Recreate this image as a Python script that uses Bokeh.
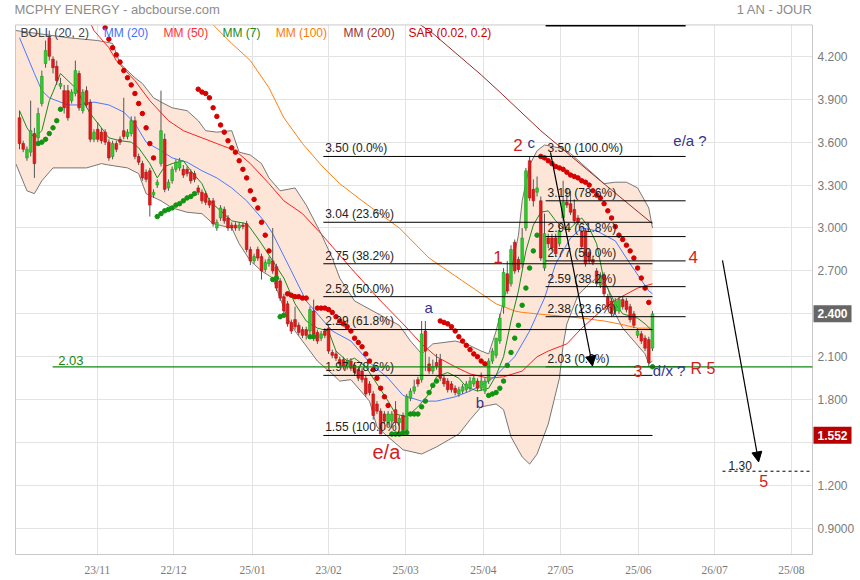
from bokeh.plotting import figure
from bokeh.models import Range1d, FixedTicker, Label, Arrow, NormalHead, ColumnDataSource
from bokeh.embed import file_html
from bokeh.resources import INLINE
from bokeh.core.properties import value

# ---------------- data ----------------
title_text = "MCPHY ENERGY - abcbourse.com"
period_text = "1 AN - JOUR"

x_tick_pos = [20.9, 41.4, 62.6, 83.0, 103.7, 124.6, 145.3, 166.2, 186.7, 207.3]
x_tick_labels = ["23/11", "22/12", "25/01", "23/02", "25/03", "25/04", "27/05", "25/06", "26/07", "25/08"]
y_ticks = [0.9, 1.2, 1.5, 1.8, 2.1, 2.4, 2.7, 3.0, 3.3, 3.6, 3.9, 4.2]
y_tick_labels = ["0.9000", "1.200", "", "1.800", "2.100", "", "2.700", "3.000", "3.300", "3.600", "3.900", "4.200"]

opens = [3.77, 3.59, 3.49, 3.53, 3.66, 3.63, 3.87, 4.15, 4.33, 4.18, 4.13, 3.99, 3.96, 3.96, 3.89, 3.94, 4.08, 3.82, 3.96, 3.88,
         3.62, 3.69, 3.67, 3.67, 3.60, 3.50, 3.59, 3.62, 3.68, 3.64, 3.66, 3.75, 3.50, 3.45, 3.39, 3.40, 3.23, 3.30, 3.45, 3.62,
         3.28, 3.33, 3.41, 3.42, 3.41, 3.41, 3.39, 3.38, 3.28, 3.25, 3.24, 3.19, 3.19, 3.00, 3.07, 3.13, 3.07, 3.02, 3.02, 3.00,
         3.02, 3.03, 2.85, 2.77, 2.85, 2.80, 2.71, 2.75, 2.77, 2.73, 2.63, 2.52, 2.47, 2.34, 2.36, 2.32, 2.29, 2.29, 2.28, 2.42,
         2.27, 2.23, 2.28, 2.30, 2.13, 2.12, 2.08, 2.08, 2.03, 2.07, 2.04, 2.01, 2.00, 1.95, 1.91, 1.84, 1.77, 1.72, 1.70, 1.64,
         1.65, 1.73, 1.64, 1.69, 1.59, 1.81, 1.86, 1.94, 1.94, 2.28, 2.05, 2.00, 2.06, 2.08, 1.95, 1.93, 1.91, 1.88, 1.84, 1.86,
         1.87, 1.88, 1.91, 1.93, 1.88, 1.86, 1.93, 2.07, 2.11, 2.21, 2.45, 2.68, 2.61, 2.90, 2.78, 2.75, 3.00, 3.47, 3.27, 3.25,
         3.19, 2.72, 2.93, 2.93, 2.93, 2.89, 3.07, 3.18, 3.17, 3.13, 3.07, 2.97, 2.98, 2.83, 2.78, 2.70, 2.60, 2.67, 2.52, 2.49,
         2.42, 2.42, 2.50, 2.49, 2.45, 2.40, 2.25, 2.26, 2.23, 2.22, 2.16]
highs = [3.82, 3.61, 3.57, 3.89, 3.70, 3.84, 4.10, 4.31, 4.38, 4.20, 4.17, 4.05, 4.00, 4.00, 3.97, 4.17, 4.10, 3.97, 3.99, 3.90,
         3.69, 3.74, 3.70, 3.69, 3.62, 3.61, 3.61, 3.64, 3.91, 3.69, 3.78, 3.78, 3.52, 3.47, 3.41, 3.42, 3.27, 3.34, 3.96, 3.66,
         3.34, 3.43, 3.48, 3.49, 3.44, 3.43, 3.41, 3.40, 3.30, 3.27, 3.26, 3.21, 3.21, 3.06, 3.16, 3.15, 3.09, 3.04, 3.04, 3.04,
         3.04, 3.05, 2.87, 2.82, 2.87, 2.82, 2.78, 2.80, 3.00, 2.75, 2.65, 2.54, 2.49, 2.36, 2.45, 2.34, 2.31, 2.31, 2.45, 2.50,
         2.29, 2.28, 2.30, 2.33, 2.15, 2.14, 2.10, 2.10, 2.09, 2.09, 2.06, 2.03, 2.02, 1.97, 1.93, 1.86, 1.79, 1.74, 1.72, 1.72,
         1.72, 1.79, 1.69, 1.71, 1.84, 1.88, 1.94, 1.96, 2.35, 2.35, 2.10, 2.08, 2.12, 2.12, 1.97, 1.95, 1.93, 1.90, 1.89, 1.91,
         1.93, 1.96, 1.97, 1.95, 1.99, 1.95, 2.09, 2.16, 2.23, 2.40, 2.72, 2.77, 2.88, 2.92, 2.80, 3.00, 3.42, 3.50, 3.34, 3.36,
         3.22, 3.10, 2.96, 2.96, 2.96, 3.02, 3.33, 3.28, 3.26, 3.20, 3.09, 2.99, 3.00, 2.85, 2.80, 2.72, 2.69, 2.69, 2.54, 2.51,
         2.51, 2.52, 2.52, 2.51, 2.47, 2.42, 2.30, 2.28, 2.25, 2.24, 2.42]
lows = [3.55, 3.53, 3.47, 3.50, 3.35, 3.60, 3.85, 4.12, 4.17, 4.08, 4.00, 3.97, 3.80, 3.75, 3.87, 3.92, 3.82, 3.80, 3.84, 3.60,
        3.60, 3.60, 3.59, 3.58, 3.47, 3.48, 3.53, 3.58, 3.62, 3.62, 3.64, 3.48, 3.44, 3.33, 3.32, 3.08, 3.21, 3.28, 3.43, 3.25,
        3.26, 3.31, 3.39, 3.40, 3.35, 3.36, 3.31, 3.32, 3.23, 3.17, 3.16, 3.14, 3.01, 2.98, 3.05, 3.03, 2.98, 2.98, 2.98, 2.98,
        2.99, 2.83, 2.74, 2.75, 2.77, 2.64, 2.69, 2.73, 2.68, 2.56, 2.49, 2.40, 2.31, 2.26, 2.29, 2.25, 2.23, 2.22, 2.26, 2.21,
        2.19, 2.21, 2.23, 2.12, 2.09, 2.07, 2.03, 2.01, 2.01, 2.00, 1.97, 1.93, 1.92, 1.82, 1.83, 1.66, 1.70, 1.56, 1.63, 1.62,
        1.60, 1.62, 1.62, 1.552, 1.57, 1.79, 1.84, 1.89, 1.92, 2.00, 1.98, 1.98, 2.01, 1.93, 1.89, 1.85, 1.85, 1.83, 1.82, 1.84,
        1.85, 1.86, 1.89, 1.86, 1.86, 1.84, 1.91, 2.05, 2.09, 2.19, 2.40, 2.54, 2.59, 2.68, 2.69, 2.72, 2.98, 3.19, 3.15, 3.22,
        2.77, 2.70, 2.86, 2.84, 2.80, 2.87, 3.05, 3.14, 3.09, 3.03, 3.02, 2.85, 2.73, 2.75, 2.74, 2.59, 2.58, 2.52, 2.43, 2.38,
        2.40, 2.40, 2.43, 2.41, 2.34, 2.30, 2.23, 2.19, 2.14, 2.03, 2.14]
closes = [3.59, 3.55, 3.55, 3.68, 3.45, 3.80, 4.06, 4.24, 4.20, 4.12, 4.03, 4.01, 3.84, 3.77, 3.95, 4.10, 3.84, 3.95, 3.86, 3.62,
          3.67, 3.62, 3.61, 3.60, 3.49, 3.59, 3.55, 3.60, 3.64, 3.67, 3.75, 3.50, 3.46, 3.35, 3.34, 3.16, 3.25, 3.32, 3.68, 3.27,
          3.32, 3.41, 3.46, 3.47, 3.37, 3.38, 3.33, 3.34, 3.25, 3.19, 3.18, 3.16, 3.03, 3.04, 3.14, 3.05, 3.00, 3.00, 3.00, 3.02,
          3.01, 2.85, 2.77, 2.80, 2.79, 2.70, 2.76, 2.78, 2.70, 2.58, 2.51, 2.42, 2.33, 2.28, 2.31, 2.27, 2.25, 2.25, 2.43, 2.23,
          2.21, 2.26, 2.25, 2.14, 2.11, 2.09, 2.05, 2.03, 2.07, 2.02, 1.99, 1.95, 1.94, 1.84, 1.85, 1.69, 1.72, 1.56, 1.65, 1.70,
          1.70, 1.64, 1.67, 1.59, 1.82, 1.86, 1.89, 1.91, 2.26, 2.14, 2.00, 2.03, 2.03, 1.95, 1.91, 1.87, 1.87, 1.85, 1.87, 1.89,
          1.91, 1.93, 1.95, 1.88, 1.93, 1.93, 2.07, 2.14, 2.23, 2.37, 2.69, 2.56, 2.85, 2.70, 2.71, 2.93, 3.40, 3.21, 3.19, 3.28,
          2.79, 2.96, 2.89, 2.86, 2.82, 2.98, 3.18, 3.16, 3.11, 3.05, 3.04, 2.87, 2.75, 2.77, 2.76, 2.61, 2.67, 2.54, 2.45, 2.40,
          2.49, 2.50, 2.45, 2.43, 2.36, 2.32, 2.28, 2.21, 2.16, 2.06, 2.40]

mm7_x = [0, 2, 4, 6, 8, 9, 11, 13, 15, 17, 19, 22, 24, 27, 30, 32, 35, 37, 39, 41, 44, 46, 49, 51, 54, 57, 61, 62, 65, 68,
         71, 74, 77, 80, 83, 85, 88, 90, 93, 96, 99, 101, 104, 107, 110, 112, 115, 118, 120, 123, 126, 128, 130, 132, 134, 136,
         138, 140, 142, 144, 146, 148, 150, 151, 153, 155, 157, 160, 162, 166, 168, 170]
mm7_y = [3.82, 3.70, 3.63, 3.68, 3.89, 3.95, 4.08, 4.03, 3.98, 3.89, 3.80, 3.70, 3.63, 3.61, 3.60, 3.56, 3.45, 3.35, 3.43, 3.45,
         3.47, 3.40, 3.31, 3.19, 3.12, 3.05, 3.03, 3.00, 2.89, 2.77, 2.65, 2.47, 2.35, 2.30, 2.28, 2.14, 2.07, 2.09, 2.03, 1.91,
         1.79, 1.70, 1.68, 1.75, 1.84, 1.96, 1.99, 1.95, 1.89, 1.86, 1.88, 1.97, 2.10, 2.35, 2.56, 2.84, 3.02, 3.11, 3.12, 3.05,
         3.00, 3.00, 3.05, 3.07, 3.00, 2.89, 2.63, 2.47, 2.40, 2.37, 2.33, 2.28]

mm20_x = [0, 4, 6, 8, 13, 16, 20, 24, 28, 31, 34, 38, 41, 45, 49, 53, 57, 61, 66, 68, 73, 77, 81, 84, 89, 94, 99, 103, 108,
          112, 117, 121, 126, 128, 133, 137, 141, 144, 148, 151, 155, 160, 164, 169, 170]
mm20_y = [4.33, 4.08, 3.96, 3.91, 3.86, 3.86, 3.88, 3.86, 3.81, 3.73, 3.60, 3.54, 3.49, 3.46, 3.40, 3.35, 3.28, 3.19, 3.04,
          2.96, 2.70, 2.49, 2.37, 2.28, 2.21, 2.06, 1.95, 1.83, 1.79, 1.79, 1.82, 1.86, 1.93, 1.97, 2.10, 2.28, 2.51, 2.75, 2.93,
          3.00, 2.98, 2.91, 2.75, 2.56, 2.54]

mm50_x = [18, 20, 24, 26, 31, 35, 40, 44, 49, 53, 58, 62, 67, 71, 76, 81, 89, 97, 103, 108, 112, 117, 121, 126, 130, 135,
          139, 142, 147, 151, 157, 161, 166, 170]
mm50_y = [4.49, 4.38, 4.26, 4.17, 4.03, 3.89, 3.75, 3.68, 3.63, 3.59, 3.54, 3.45, 3.31, 3.19, 3.10, 2.96, 2.72, 2.49, 2.33,
          2.19, 2.10, 2.03, 1.98, 1.95, 1.96, 2.00, 2.10, 2.14, 2.19, 2.30, 2.44, 2.51, 2.58, 2.61]

mm100_x = [50, 52, 57, 62, 67, 71, 76, 81, 86, 92, 102, 110, 119, 128, 133, 135, 143, 151, 157, 161, 166, 170]
mm100_y = [4.49, 4.42, 4.29, 4.17, 3.98, 3.77, 3.59, 3.44, 3.31, 3.19, 3.00, 2.79, 2.63, 2.47, 2.42, 2.41, 2.39, 2.37, 2.35,
           2.33, 2.30, 2.30]

mm200_x = [106, 111, 124, 129, 140, 156, 170]
mm200_y = [4.45, 4.36, 4.07, 3.95, 3.68, 3.33, 3.03]

boll_up_x = [-1, 13, 21, 25, 27, 31, 33, 36, 38, 41, 45, 48, 50, 53, 57, 59, 62, 65, 67, 70, 74, 77, 81, 84, 86, 90, 97,
             102, 105, 108, 111, 117, 120, 124, 126, 128, 130, 132, 134, 135, 137, 139, 141, 145, 148, 151, 154, 157, 160,
             163, 166, 169, 170]
boll_up_y = [4.38, 4.33, 4.31, 4.29, 4.15, 4.05, 4.01, 3.91, 3.88, 3.84, 3.82, 3.75, 3.68, 3.67, 3.68, 3.53, 3.51, 3.45,
             3.35, 3.26, 3.28, 3.16, 2.96, 2.79, 2.65, 2.49, 2.39, 2.32, 2.21, 2.12, 2.19, 2.21, 2.19, 2.14, 2.12, 2.28, 2.49,
             2.70, 2.95, 3.19, 3.44, 3.54, 3.58, 3.56, 3.52, 3.45, 3.38, 3.31, 3.32, 3.32, 3.28, 3.14, 3.00]
boll_lo_x = [-1, 2, 4, 6, 9, 13, 18, 22, 24, 29, 32, 34, 38, 41, 45, 49, 52, 57, 59, 62, 65, 68, 70, 72, 74, 76, 80, 84,
             86, 89, 94, 96, 99, 103, 108, 112, 118, 121, 124, 126, 128, 130, 132, 135, 137, 139, 142, 145, 146, 147, 150,
             153, 155, 158, 160, 162, 165, 168, 169, 170]
boll_lo_y = [3.45, 3.26, 3.24, 3.33, 3.42, 3.42, 3.42, 3.45, 3.44, 3.42, 3.38, 3.24, 3.19, 3.14, 3.11, 3.10, 3.03, 3.00,
             2.89, 2.77, 2.70, 2.65, 2.51, 2.37, 2.28, 2.21, 2.07, 1.98, 1.93, 1.94, 1.79, 1.61, 1.54, 1.45, 1.42, 1.47, 1.56,
             1.66, 1.75, 1.76, 1.77, 1.73, 1.54, 1.40, 1.35, 1.42, 1.63, 1.95, 2.18, 2.33, 2.53, 2.61, 2.65, 2.58, 2.40, 2.30,
             2.21, 2.12, 2.05, 2.07]

sar_red_x = list(range(23, 37)) + list(range(48, 68)) + list(range(72, 78)) + list(range(80, 100)) \
    + list(range(113, 126)) + list(range(140, 170))
sar_red_y = [4.40, 4.32, 4.26, 4.21, 4.16, 4.10, 4.05, 4.00, 3.94, 3.87, 3.80, 3.70, 3.59, 3.49,
             3.97, 3.95, 3.94, 3.91, 3.84, 3.78, 3.72, 3.67, 3.61, 3.56, 3.53, 3.47, 3.41, 3.35, 3.26, 3.20, 3.14, 3.04,
             2.95, 2.84,
             2.54, 2.53, 2.52, 2.52, 2.51, 2.51,
             2.44, 2.44, 2.44, 2.43, 2.41, 2.38, 2.35, 2.33, 2.31, 2.28, 2.23, 2.20, 2.17, 2.12, 2.07, 2.01, 1.95, 1.88,
             1.82, 1.76,
             2.35, 2.34, 2.33, 2.31, 2.28, 2.24, 2.21, 2.18, 2.15, 2.12, 2.10, 2.07, 2.05,
             3.50, 3.49, 3.47, 3.45, 3.43, 3.42, 3.41, 3.39, 3.37, 3.36, 3.35, 3.33, 3.32, 3.30, 3.26, 3.23, 3.21, 3.17,
             3.12, 3.07, 3.01, 2.95, 2.92, 2.88, 2.84, 2.79, 2.72, 2.65, 2.58, 2.48]
sar_green_x = list(range(5, 12)) + list(range(37, 48)) + list(range(68, 72)) + [78, 79] + list(range(100, 113)) \
    + list(range(126, 140)) + [170]
sar_green_y = [3.59, 3.60, 3.62, 3.66, 3.70, 3.75, 3.83,
               3.08, 3.10, 3.12, 3.13, 3.14, 3.16, 3.17, 3.19, 3.21, 3.22, 3.24,
               2.64, 2.65, 2.38, 2.39,
               2.24, 2.24,
               1.56, 1.56, 1.56, 1.57, 1.57, 1.70, 1.70, 1.70, 1.75, 1.79, 1.85, 1.90, 1.93,
               1.83, 1.84, 1.85, 1.88, 1.93, 2.04, 2.13, 2.23, 2.32, 2.46, 2.58, 2.72, 2.84, 2.95,
               2.03]

fib1_levels = [3.50, 3.04, 2.75, 2.52, 2.29, 1.97, 1.55]
fib1_pcts = ["0.0%", "23.6%", "38.2%", "50.0%", "61.8%", "78.6%", "100.0%"]
fib2_levels = [3.50, 3.19, 2.94, 2.77, 2.59, 2.38, 2.03]
fib2_pcts = ["100.0%", "78.6%", "61.8%", "50.0%", "38.2%", "23.6%", "0.0%"]
support_level = 2.03
target_level = 1.30
top_level = 4.414
last_price = 2.400
low_price = 1.552

arrow1_x = [142.6, 153.9]
arrow1_y = [3.528, 2.035]
arrow2_x = [188.8, 198.5]
arrow2_y = [2.773, 1.365]

legend_items = ["BOLL (20, 2)", "MM (20)", "MM (50)", "MM (7)", "MM (100)", "MM (200)", "SAR (0.02, 0.2)"]

# ---------------- figure ----------------
FONT_NAME = "Liberation Sans"
FONT = value(FONT_NAME)

# chart area (inside a slightly larger frame that also holds the header and the price boxes)
X0, X1 = -1.074, 212.97
Y0, Y1 = 0.718, 4.419

p = figure(frame_width=841, frame_height=555, output_backend="svg", toolbar_location=None,
           x_range=Range1d(-1.343, 224.52), y_range=Range1d(0.711, 4.590), title=None,
           y_axis_location="right", min_border_left=14, min_border_top=0,
           min_border_right=5, min_border_bottom=25)
p.background_fill_color = "white"
p.border_fill_color = "white"
p.outline_line_color = None

p.yaxis.ticker = FixedTicker(ticks=y_ticks)
p.yaxis.major_label_overrides = {t: s for t, s in zip(y_ticks, y_tick_labels)}
p.xaxis.ticker = FixedTicker(ticks=x_tick_pos)
p.xaxis.major_label_overrides = {t: s for t, s in zip(x_tick_pos, x_tick_labels)}
for ax in (p.xaxis[0], p.yaxis[0]):
    ax.axis_line_color = None
    ax.major_tick_line_color = None
    ax.minor_tick_line_color = None
    ax.major_tick_out = 0
    ax.major_tick_in = 0
    ax.major_label_text_color = "#7a7a7a"
    ax.major_label_text_font = FONT_NAME
p.yaxis.major_label_text_font_size = "12px"
p.yaxis.major_label_standoff = -38
p.xaxis.major_label_text_font_size = "11.5px"
p.xaxis.major_label_text_font = "Liberation Sans Narrow"
p.xaxis.major_label_standoff = 8
p.xgrid.ticker = FixedTicker(ticks=x_tick_pos)
p.ygrid.ticker = FixedTicker(ticks=y_ticks)
p.grid.grid_line_color = "#e3e3e3"
p.grid.grid_line_width = 1

# Bollinger band
p.patch(boll_up_x + boll_lo_x[::-1], boll_up_y + boll_lo_y[::-1], fill_color="#fde6d8", line_color=None)
p.line(boll_up_x, boll_up_y, line_color="#777777", line_width=1)
p.line(boll_lo_x, boll_lo_y, line_color="#777777", line_width=1)

# moving averages
p.line(mm100_x, mm100_y, line_color="#ff7f10", line_width=1)
p.line(mm200_x, mm200_y, line_color="#9a2a2a", line_width=1)
p.line(mm50_x, mm50_y, line_color="#ff2020", line_width=1)
p.line(mm20_x, mm20_y, line_color="#4a78ff", line_width=1)
p.line(mm7_x, mm7_y, line_color="#1a8a1a", line_width=1)

# candles
idx = list(range(len(closes)))
up = [c >= o for o, c in zip(opens, closes)]
src = ColumnDataSource(dict(
    x=idx, h=highs, l=lows,
    top=[max(o, c) for o, c in zip(opens, closes)],
    bot=[min(o, c) for o, c in zip(opens, closes)],
    fill=["#2fcc2f" if u else "#e01b1b" for u in up],
    edge=["#1c9a1c" if u else "#b01010" for u in up],
))
p.segment("x", "h", "x", "l", source=src, line_color="#555555", line_width=1)
p.vbar(x="x", width=0.72, top="top", bottom="bot", fill_color="fill", line_color="edge", line_width=0.6, source=src)

# SAR
p.scatter(sar_red_x, sar_red_y, size=4.5, fill_color="#d60000", line_color="#d60000")
p.scatter(sar_green_x, sar_green_y, size=4.5, fill_color="#119411", line_color="#119411")

# mask everything outside the chart area (header strip on top, price-label strip on the right)
p.quad(left=[X1, -1.343, -1.343], right=[224.52, 224.52, X0], bottom=[0.711, Y1, 0.711], top=[4.590, 4.590, 4.590],
       fill_color="white", line_color=None)
p.quad(left=[-1.343], right=[224.52], bottom=[0.711], top=[Y0], fill_color="white", line_color=None)
# chart border
p.segment([X0, X0, X1, X0], [Y0, Y1, Y0, Y0], [X0, X1, X1, X1], [Y1, Y1, Y1, Y0], line_color="#c8c8c8", line_width=1)

# Fibonacci levels
FIB1_X0, FIB1_X1 = 81.6, 170.0
FIB2_X0, FIB2_X1 = 141.3, 178.9
p.segment([FIB1_X0] * len(fib1_levels), fib1_levels, [FIB1_X1] * len(fib1_levels), fib1_levels,
          line_color="black", line_width=1)
p.segment([FIB2_X0] * len(fib2_levels), fib2_levels, [FIB2_X1] * len(fib2_levels), fib2_levels,
          line_color="black", line_width=1)
p.segment([FIB2_X0], [top_level], [FIB2_X1], [top_level], line_color="black", line_width=1.5)
p.text([FIB1_X0 + 0.5] * len(fib1_levels), [v + 0.008 for v in fib1_levels],
       text=["%.2f  (%s)" % (v, s) for v, s in zip(fib1_levels, fib1_pcts)],
       text_font=FONT, text_font_size="12px", text_color="#222222", text_baseline="bottom")
p.text([FIB2_X0 + 0.5] * len(fib2_levels), [v + 0.008 for v in fib2_levels],
       text=["%.2f  (%s)" % (v, s) for v, s in zip(fib2_levels, fib2_pcts)],
       text_font=FONT, text_font_size="12px", text_color="#222222", text_baseline="bottom")

# support line and target
p.segment([8.9], [support_level], [X1], [support_level], line_color="#118811", line_width=1.2)
p.text([10.4], [support_level + 0.01], text=["%.2f" % support_level], text_font=FONT,
       text_font_size="13px", text_color="#118811", text_baseline="bottom")
p.segment([188.8], [target_level], [X1], [target_level], line_color="black", line_width=1, line_dash="3 3")
p.text([190.4], [target_level + 0.01], text=["%.2f" % target_level], text_font=FONT,
       text_font_size="12px", text_color="#222222", text_baseline="bottom")

# arrows
p.add_layout(Arrow(end=NormalHead(size=10, fill_color="black", line_color="black"),
                   x_start=arrow1_x[0], y_start=arrow1_y[0], x_end=arrow1_x[1], y_end=arrow1_y[1],
                   line_color="black", line_width=1.2))
p.add_layout(Arrow(end=NormalHead(size=10, fill_color="black", line_color="black"),
                   x_start=arrow2_x[0], y_start=arrow2_y[0], x_end=arrow2_x[1], y_end=arrow2_y[1],
                   line_color="black", line_width=1.2))

# wave annotations
RED = "#d42020"
NAVY = "#33338f"
notes = [
    (132.6, 3.583, "2", RED, "17px"),
    (136.4, 3.600, "c", NAVY, "15px"),
    (175.6, 3.611, "e/a ?", NAVY, "15px"),
    (127.2, 2.800, "1", RED, "17px"),
    (179.7, 2.794, "4", RED, "17px"),
    (108.8, 2.441, "a", NAVY, "15px"),
    (122.5, 1.780, "b", NAVY, "15px"),
    (94.8, 1.434, "e/a", RED, "20px"),
    (164.9, 2.004, "3", RED, "16px"),
    (170.1, 2.004, "d/x ?", NAVY, "15px"),
    (180.2, 2.018, "R 5", RED, "16px"),
    (198.7, 1.231, "5", RED, "16px"),
]
for x, y, t, c, s in notes:
    p.add_layout(Label(x=x, y=y, text=t, text_color=c, text_font=FONT_NAME, text_font_size=s,
                       text_baseline="middle", text_align="left"))

# indicator legend row
legend_x = [0.3, 22.6, 38.7, 54.5, 68.8, 87.0, 104.5]
legend_colors = ["#444444", "#3f6fff", "#ff3030", "#1a8a1a", "#ff7a00", "#9b3030", "#d00000"]
for x, t, c in zip(legend_x, legend_items, legend_colors):
    p.add_layout(Label(x=x, y=4.366, text=t, text_color=c, text_font=FONT_NAME, text_font_size="12px",
                       text_baseline="middle", text_align="left"))

# header
p.add_layout(Label(x=X0 - 0.27, y=4.527, text=title_text, text_color="#8c8c8c", text_font=FONT_NAME,
                   text_font_size="13px", text_baseline="middle", text_align="left"))
p.add_layout(Label(x=X1, y=4.527, text=period_text, text_color="#8c8c8c", text_font=FONT_NAME,
                   text_font_size="13px", text_baseline="middle", text_align="right"))

# price boxes on the axis
p.add_layout(Label(x=X1, y=last_price, x_offset=1, text="%.3f" % last_price, text_color="white",
                   text_font=FONT_NAME, text_font_size="12px", text_font_style="bold",
                   background_fill_color="#666666", text_baseline="middle", text_align="left", padding=4))
p.add_layout(Label(x=X1, y=low_price, x_offset=1, text="%.3f" % low_price, text_color="white",
                   text_font=FONT_NAME, text_font_size="12px", text_font_style="bold",
                   background_fill_color="#b80000", text_baseline="middle", text_align="left", padding=4))

open("out.html", "w").write(file_html(p, INLINE))
